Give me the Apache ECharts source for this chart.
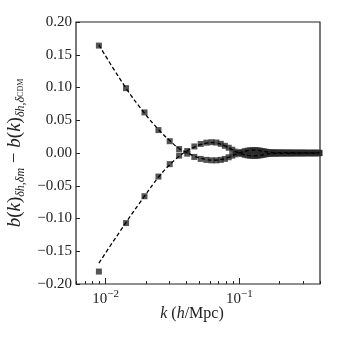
<!DOCTYPE html>
<html>
<head>
<meta charset="utf-8">
<script src="https://cdn.jsdelivr.net/npm/echarts@6/dist/echarts.min.js"></script>
<style>
  html, body { margin: 0; background: #fff; }
  #chart { width: 337px; height: 337px; }
</style>
</head>
<body>
<div id="chart"></div>
<script>
// k bins (h/Mpc)
const kVals = [
  0.0089, 0.0142, 0.0195, 0.0248, 0.0301, 0.0354, 0.0407, 0.0460, 0.0513, 0.0566,
  0.0619, 0.0672, 0.0725, 0.0778, 0.0831, 0.0884, 0.0937, 0.0990, 0.1043, 0.1096,
  0.1149, 0.1202, 0.1255, 0.1308, 0.1361, 0.1414, 0.1467, 0.1520, 0.1573, 0.1626,
  0.1679, 0.1732, 0.1785, 0.1838, 0.1891, 0.1944, 0.1997, 0.2050, 0.2103, 0.2156,
  0.2209, 0.2262, 0.2315, 0.2368, 0.2421, 0.2474, 0.2527, 0.2580, 0.2633, 0.2686,
  0.2739, 0.2792, 0.2845, 0.2898, 0.2951, 0.3004, 0.3057, 0.3110, 0.3163, 0.3216,
  0.3269, 0.3322, 0.3375, 0.3428, 0.3481, 0.3534, 0.3587, 0.3640, 0.3693, 0.3746,
  0.3799, 0.3852, 0.3905, 0.3958
]
// measured points (squares)
const biasDiffA = [
  0.164, 0.099, 0.062, 0.035, 0.018, 0.006, -0.001, -0.006, -0.009, -0.0105,
  -0.0112, -0.0112, -0.0105, -0.009, -0.0065, -0.004, -0.002, 0.0000, 0.0015, 0.0028,
  0.0036, 0.0041, 0.0043, 0.0043, 0.0041, 0.0037, 0.0031, 0.0025, 0.0019, 0.0013,
  0.0010, 0.0008, 0.0007, 0.0007, 0.0006, 0.0006, 0.0006, 0.0005, 0.0005, 0.0005,
  0.0005, 0.0004, 0.0004, 0.0004, 0.0004, 0.0004, 0.0004, 0.0003, 0.0003, 0.0003,
  0.0003, 0.0003, 0.0003, 0.0003, 0.0003, 0.0003, 0.0003, 0.0002, 0.0002, 0.0002,
  0.0002, 0.0002, 0.0002, 0.0002, 0.0002, 0.0002, 0.0002, 0.0002, 0.0002, 0.0002,
  0.0002, 0.0002, 0.0002, 0.0002
]
const biasDiffB = [
  -0.181, -0.107, -0.066, -0.036, -0.017, -0.004, 0.003, 0.010, 0.0138, 0.0158,
  0.0165, 0.016, 0.014, 0.011, 0.008, 0.005, 0.002, 0.0000, -0.0015, -0.0028,
  -0.0036, -0.0041, -0.0043, -0.0043, -0.0041, -0.0037, -0.0031, -0.0025, -0.0019, -0.0013,
  -0.0010, -0.0008, -0.0007, -0.0007, -0.0006, -0.0006, -0.0006, -0.0005, -0.0005, -0.0005,
  -0.0005, -0.0004, -0.0004, -0.0004, -0.0004, -0.0004, -0.0004, -0.0003, -0.0003, -0.0003,
  -0.0003, -0.0003, -0.0003, -0.0003, -0.0003, -0.0003, -0.0003, -0.0002, -0.0002, -0.0002,
  -0.0002, -0.0002, -0.0002, -0.0002, -0.0002, -0.0002, -0.0002, -0.0002, -0.0002, -0.0002,
  -0.0002, -0.0002, -0.0002, -0.0002
]
// theory curves (dashed)
const theoryA = [
  0.165, 0.099, 0.061, 0.036, 0.019, 0.007, 0.0005, -0.005, -0.008, -0.010,
  -0.011, -0.011, -0.010, -0.0085, -0.0065, -0.004, -0.002, 0.0000, 0.0015, 0.0028,
  0.0036, 0.0041, 0.0043, 0.0043, 0.0041, 0.0037, 0.0031, 0.0025, 0.0019, 0.0013,
  0.0010, 0.0008, 0.0007, 0.0007, 0.0006, 0.0006, 0.0006, 0.0005, 0.0005, 0.0005,
  0.0005, 0.0004, 0.0004, 0.0004, 0.0004, 0.0004, 0.0004, 0.0003, 0.0003, 0.0003,
  0.0003, 0.0003, 0.0003, 0.0003, 0.0003, 0.0003, 0.0003, 0.0002, 0.0002, 0.0002,
  0.0002, 0.0002, 0.0002, 0.0002, 0.0002, 0.0002, 0.0002, 0.0002, 0.0002, 0.0002,
  0.0002, 0.0002, 0.0002, 0.0002
]
const theoryB = [
  -0.168, -0.106, -0.066, -0.037, -0.018, -0.005, 0.0035, 0.009, 0.013, 0.015,
  0.016, 0.0155, 0.0135, 0.011, 0.008, 0.005, 0.002, 0.0000, -0.0015, -0.0028,
  -0.0036, -0.0041, -0.0043, -0.0043, -0.0041, -0.0037, -0.0031, -0.0025, -0.0019, -0.0013,
  -0.0010, -0.0008, -0.0007, -0.0007, -0.0006, -0.0006, -0.0006, -0.0005, -0.0005, -0.0005,
  -0.0005, -0.0004, -0.0004, -0.0004, -0.0004, -0.0004, -0.0004, -0.0003, -0.0003, -0.0003,
  -0.0003, -0.0003, -0.0003, -0.0003, -0.0003, -0.0003, -0.0003, -0.0002, -0.0002, -0.0002,
  -0.0002, -0.0002, -0.0002, -0.0002, -0.0002, -0.0002, -0.0002, -0.0002, -0.0002, -0.0002,
  -0.0002, -0.0002, -0.0002, -0.0002
]
const xMajorTicks = [0.01, 0.1]
const xMinorTicks = [0.006, 0.007, 0.008, 0.009, 0.02, 0.03, 0.04, 0.05, 0.06, 0.07, 0.08, 0.09, 0.2, 0.3, 0.4]
const xMin = 0.006
const xMax = 0.4
const yMin = -0.2
const yMax = 0.2
const yStep = 0.05

const serif = 'Liberation Serif'
const ink = '#222'
const pairs = (ys) => kVals.map((k, i) => [k, ys[i]])
const logMin = Math.log10(xMin)
const logMax = Math.log10(xMax)

const chart = echarts.init(document.getElementById('chart'), null, { renderer: 'canvas' })
chart.setOption({
  animation: false,
  grid: {
    left: 76, right: 17, top: 22, bottom: 53, outerBoundsMode: 'none',
    show: true, borderColor: ink, borderWidth: 1.2, backgroundColor: 'transparent'
  },
  xAxis: [{
    type: 'log', logBase: 10, min: xMin, max: xMax,
    axisLine: { show: false }, axisTick: { show: false },
    axisLabel: { show: false }, splitLine: { show: false },
    name: '{i|k} ({i|h}/Mpc)',
    nameLocation: 'middle', nameGap: 22,
    nameTextStyle: {
      fontFamily: serif, fontSize: 16, color: ink, padding: [0, 12, 0, 0],
      rich: { i: { fontFamily: serif, fontSize: 16, fontStyle: 'italic', color: ink } }
    }
  }, {
    type: 'value', min: logMin, max: logMax, position: 'bottom',
    axisLine: { show: false }, splitLine: { show: false },
    axisTick: { inside: true, length: 6, customValues: xMajorTicks.map(Math.log10), lineStyle: { color: ink, width: 1 } },
    axisLabel: {
      margin: 5, customValues: xMajorTicks.map(Math.log10),
      formatter: v => '{b|10}{s|−' + Math.abs(Math.round(v)) + '}',
      rich: {
        b: { fontFamily: serif, fontSize: 15, color: ink },
        s: { fontFamily: serif, fontSize: 11, color: ink, padding: [0, 0, 9, 0] }
      }
    }
  }, {
    type: 'value', min: logMin, max: logMax, position: 'bottom',
    axisLine: { show: false }, splitLine: { show: false },
    axisTick: { inside: true, length: 3, customValues: xMinorTicks.map(Math.log10), lineStyle: { color: ink, width: 1 } },
    axisLabel: { show: false }
  }],
  yAxis: {
    type: 'value', min: yMin, max: yMax, interval: yStep,
    axisLine: { show: false }, splitLine: { show: false },
    axisTick: { inside: true, length: 4, lineStyle: { color: ink, width: 1 } },
    axisLabel: {
      margin: 4, fontFamily: serif, fontSize: 15, color: ink,
      formatter: v => v.toFixed(2).replace('-', '−')
    },
    name: '{i|b}({i|k}){s|δh,δm} − {i|b}({i|k}){s|δh,δ}{c|CDM}',
    nameLocation: 'middle', nameGap: 46, nameRotate: 90,
    nameTextStyle: {
      fontFamily: serif, fontSize: 19, color: ink,
      rich: {
        i: { fontFamily: serif, fontSize: 19, fontStyle: 'italic', color: ink },
        s: { fontFamily: serif, fontSize: 12, fontStyle: 'italic', color: ink, padding: [10, 0, 0, 0] },
        c: { fontFamily: serif, fontSize: 8, color: ink, padding: [11, 0, 0, 0] }
      }
    }
  },
  series: [{
    type: 'scatter', symbol: 'rect', symbolSize: 6, data: pairs(biasDiffA),
    itemStyle: { color: '#2b2b2b' }, z: 2
  }, {
    type: 'scatter', symbol: 'rect', symbolSize: 6, data: pairs(biasDiffB),
    itemStyle: { color: '#2b2b2b' }, z: 2
  }, {
    type: 'line', data: pairs(theoryA), symbol: 'none', smooth: true,
    lineStyle: { color: '#000', width: 1.3, type: [4, 2.5] }, z: 3
  }, {
    type: 'line', data: pairs(theoryB), symbol: 'none', smooth: true,
    lineStyle: { color: '#000', width: 1.3, type: [4, 2.5] }, z: 3
  }]
})
</script>
</body>
</html>
